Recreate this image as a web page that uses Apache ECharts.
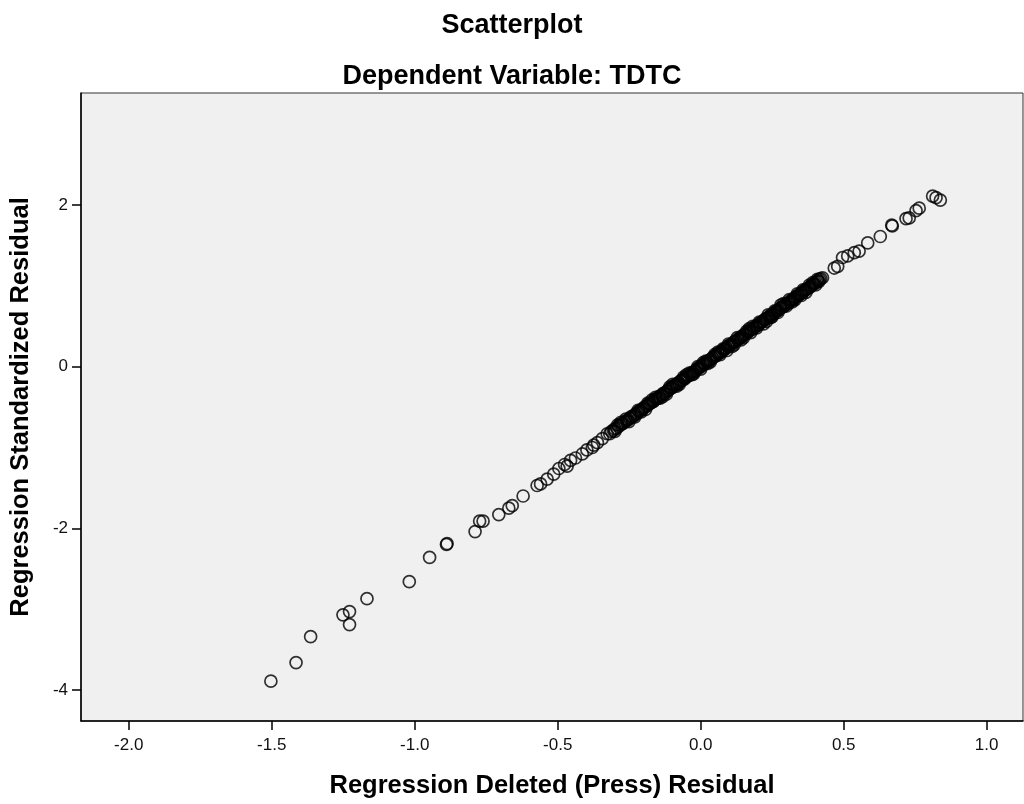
<!DOCTYPE html>
<html>
<head>
<meta charset="utf-8">
<script src="https://cdn.jsdelivr.net/npm/echarts@6/dist/echarts.min.js"></script>
<style>
  html, body { margin: 0; padding: 0; background: #fff; }
  #chart { width: 1024px; height: 804px; }
</style>
</head>
<body>
<div id="chart"></div>
<script>
  // [press residual, standardized residual]
  var lowTail = [
    [-1.503, -3.89], [-1.415, -3.66], [-1.364, -3.34], [-1.251, -3.07], [-1.228, -3.03],
    [-1.228, -3.19], [-1.167, -2.87], [-1.019, -2.66], [-0.948, -2.36], [-0.889, -2.20],
    [-0.887, -2.19], [-0.789, -2.04], [-0.773, -1.91], [-0.761, -1.91], [-0.706, -1.83],
    [-0.671, -1.75], [-0.659, -1.72], [-0.621, -1.60], [-0.572, -1.47], [-0.560, -1.45],
    [-0.537, -1.39], [-0.514, -1.33], [-0.496, -1.26], [-0.467, -1.23], [-0.455, -1.16],
    [-0.438, -1.13], [-0.414, -1.08], [-0.379, -1.00], [-0.374, -0.97], [-0.344, -0.89],
    [-0.327, -0.83], [-0.398, -1.03], [-0.361, -0.94], [-0.476, -1.21]
  ];

  var band = [
    [-0.318, -0.83], [-0.312, -0.80], [-0.305, -0.79], [-0.301, -0.77], [-0.294, -0.76],
    [-0.287, -0.74], [-0.283, -0.72], [-0.276, -0.71], [-0.271, -0.70], [-0.266, -0.68],
    [-0.259, -0.67], [-0.255, -0.66], [-0.248, -0.64], [-0.244, -0.62], [-0.238, -0.62],
    [-0.233, -0.60], [-0.227, -0.59], [-0.222, -0.57], [-0.216, -0.56], [-0.212, -0.54],
    [-0.206, -0.53], [-0.201, -0.52], [-0.197, -0.50], [-0.190, -0.49], [-0.186, -0.48],
    [-0.181, -0.46], [-0.176, -0.45], [-0.170, -0.44], [-0.165, -0.43], [-0.161, -0.41],
    [-0.155, -0.40], [-0.150, -0.39], [-0.146, -0.37], [-0.140, -0.36], [-0.135, -0.35],
    [-0.131, -0.33], [-0.126, -0.33], [-0.120, -0.31], [-0.116, -0.30], [-0.111, -0.28],
    [-0.105, -0.27], [-0.101, -0.26], [-0.096, -0.25], [-0.091, -0.23], [-0.086, -0.22],
    [-0.082, -0.21], [-0.077, -0.20], [-0.071, -0.18], [-0.067, -0.17], [-0.062, -0.16],
    [-0.056, -0.15], [-0.052, -0.13], [-0.047, -0.12], [-0.043, -0.11], [-0.037, -0.10],
    [-0.033, -0.08], [-0.028, -0.07], [-0.022, -0.06], [-0.018, -0.05], [-0.013, -0.03],
    [-0.008, -0.02], [-0.003, -0.01], [0.002, 0.01], [0.007, 0.02], [0.012, 0.03],
    [0.016, 0.04], [0.021, 0.06], [0.027, 0.07], [0.031, 0.08], [0.036, 0.09],
    [0.041, 0.11], [0.046, 0.12], [0.051, 0.13], [0.055, 0.14], [0.061, 0.16],
    [0.066, 0.17], [0.070, 0.18], [0.075, 0.19], [0.081, 0.21], [0.085, 0.22],
    [0.090, 0.23], [0.095, 0.25], [0.100, 0.26], [0.104, 0.27], [0.110, 0.28],
    [0.115, 0.30], [0.119, 0.31], [0.124, 0.32], [0.130, 0.33], [0.134, 0.35],
    [0.139, 0.36], [0.144, 0.37], [0.149, 0.39], [0.154, 0.40], [0.158, 0.41],
    [0.164, 0.42], [0.169, 0.44], [0.173, 0.45], [0.178, 0.46], [0.184, 0.47],
    [0.188, 0.49], [0.193, 0.50], [0.198, 0.51], [0.203, 0.52], [0.208, 0.54],
    [0.213, 0.55], [0.218, 0.56], [0.223, 0.58], [0.227, 0.59], [0.233, 0.60],
    [0.238, 0.61], [0.242, 0.63], [0.248, 0.64], [0.252, 0.65], [0.257, 0.66],
    [0.262, 0.68], [0.267, 0.69], [0.272, 0.70], [0.277, 0.72], [0.281, 0.73],
    [0.287, 0.74], [0.292, 0.75], [0.296, 0.77], [0.302, 0.78], [0.307, 0.79],
    [0.311, 0.80], [0.316, 0.82], [0.322, 0.83], [0.326, 0.84], [0.331, 0.86],
    [0.336, 0.87], [0.341, 0.88], [0.346, 0.89], [0.351, 0.91], [0.355, 0.92],
    [0.361, 0.93], [0.366, 0.95], [0.370, 0.96], [0.376, 0.97], [0.381, 0.98],
    [0.385, 1.00], [0.390, 1.01], [0.396, 1.02], [0.400, 1.04], [0.405, 1.05],
    [0.410, 1.06], [0.415, 1.08], [0.420, 1.09]
  ];

  // points lying just off the centre of the dense band
  var bandEdge = [
    [-0.290, -0.72], [-0.230, -0.62], [-0.170, -0.41], [-0.120, -0.34], [-0.060, -0.13],
    [0.000, -0.03], [0.060, 0.18], [0.110, 0.25], [0.170, 0.47], [0.220, 0.53],
    [0.280, 0.76], [0.330, 0.83], [0.380, 1.01], [0.150, 0.36], [-0.010, 0.00],
    [0.250, 0.62], [-0.300, -0.80], [-0.262, -0.65], [-0.208, -0.56], [-0.185, -0.45],
    [-0.142, -0.39], [-0.098, -0.22], [-0.075, -0.22], [-0.040, -0.08], [-0.025, -0.09],
    [0.018, 0.07], [0.034, 0.06], [0.078, 0.22], [0.092, 0.20], [0.128, 0.36],
    [0.141, 0.33], [0.182, 0.50], [0.196, 0.48], [0.236, 0.64], [0.246, 0.61],
    [0.290, 0.78], [0.300, 0.75], [0.338, 0.90], [0.352, 0.88], [0.392, 1.04],
    [0.402, 1.01], [-0.279, -0.69], [-0.251, -0.68], [-0.219, -0.54], [-0.193, -0.53],
    [-0.158, -0.38], [-0.133, -0.37], [-0.108, -0.25], [-0.084, -0.24], [-0.050, -0.10],
    [-0.030, -0.10], [0.009, 0.05], [0.025, 0.04], [0.049, 0.15], [0.068, 0.15],
    [0.097, 0.28], [0.117, 0.27], [0.161, 0.44], [0.175, 0.42], [0.205, 0.55],
    [0.230, 0.56], [0.259, 0.69], [0.270, 0.67], [0.310, 0.83], [0.320, 0.80],
    [0.358, 0.95], [0.368, 0.92], [0.408, 1.08], [0.413, 1.05]
  ];

  var highTail = [
    [0.426, 1.10], [0.467, 1.22], [0.479, 1.24], [0.496, 1.35], [0.514, 1.37],
    [0.537, 1.41], [0.554, 1.43], [0.584, 1.53], [0.628, 1.61], [0.668, 1.75],
    [0.670, 1.74], [0.718, 1.83], [0.729, 1.84], [0.753, 1.93], [0.764, 1.96],
    [0.811, 2.11], [0.823, 2.09], [0.838, 2.06]
  ];

  var xTicks = [-2.0, -1.5, -1.0, -0.5, 0.0, 0.5, 1.0];
  var yTicks = [-4, -2, 0, 2];

  var chart = echarts.init(document.getElementById('chart'));
  var fontFam = 'Arial, "Liberation Sans", sans-serif';

  var option = {
    backgroundColor: '#ffffff',
    animation: false,
    title: [
      {
        text: 'Scatterplot',
        left: 'center',
        top: 7,
        textStyle: { fontFamily: fontFam, fontSize: 27, fontWeight: 'bold', color: '#000' }
      },
      {
        text: 'Dependent Variable: TDTC',
        left: 'center',
        top: 58,
        textStyle: { fontFamily: fontFam, fontSize: 27, fontWeight: 'bold', color: '#000' }
      }
    ],
    grid: {
      left: 81,
      right: 1,
      top: 93,
      bottom: 81,
      show: true,
      backgroundColor: '#f0f0f0',
      borderColor: '#333',
      borderWidth: 1
    },
    xAxis: {
      type: 'value',
      min: -2.167,
      max: 1.127,
      name: 'Regression Deleted (Press) Residual',
      nameLocation: 'middle',
      nameGap: 52,
      nameTextStyle: { fontFamily: fontFam, fontSize: 25.5, fontWeight: 'bold', color: '#000' },
      axisLine: { show: true, onZero: false, lineStyle: { color: '#000', width: 1.5 } },
      axisTick: { show: true, length: 9, customValues: xTicks, lineStyle: { color: '#000', width: 1.5 } },
      axisLabel: {
        customValues: xTicks,
        margin: 16,
        fontFamily: fontFam,
        fontSize: 17,
        color: '#111',
        formatter: function (v) { return v.toFixed(1); }
      },
      splitLine: { show: false }
    },
    yAxis: {
      type: 'value',
      min: -4.383,
      max: 3.385,
      name: 'Regression Standardized Residual',
      nameLocation: 'middle',
      nameGap: 47,
      nameTextStyle: { fontFamily: fontFam, fontSize: 25.5, fontWeight: 'bold', color: '#000' },
      axisLine: { show: true, onZero: false, lineStyle: { color: '#000', width: 1.5 } },
      axisTick: { show: true, length: 9, customValues: yTicks, lineStyle: { color: '#000', width: 1.5 } },
      axisLabel: {
        customValues: yTicks,
        margin: 13,
        fontFamily: fontFam,
        fontSize: 17,
        color: '#111'
      },
      splitLine: { show: false }
    },
    series: [lowTail, band, bandEdge, highTail].map(function (pts) {
      return {
        type: 'scatter',
        data: pts,
        symbol: 'circle',
        symbolSize: 12,
        itemStyle: { color: 'transparent', borderColor: '#000', borderWidth: 1.7 }
      };
    })
  };

  chart.setOption(option);
</script>
</body>
</html>
